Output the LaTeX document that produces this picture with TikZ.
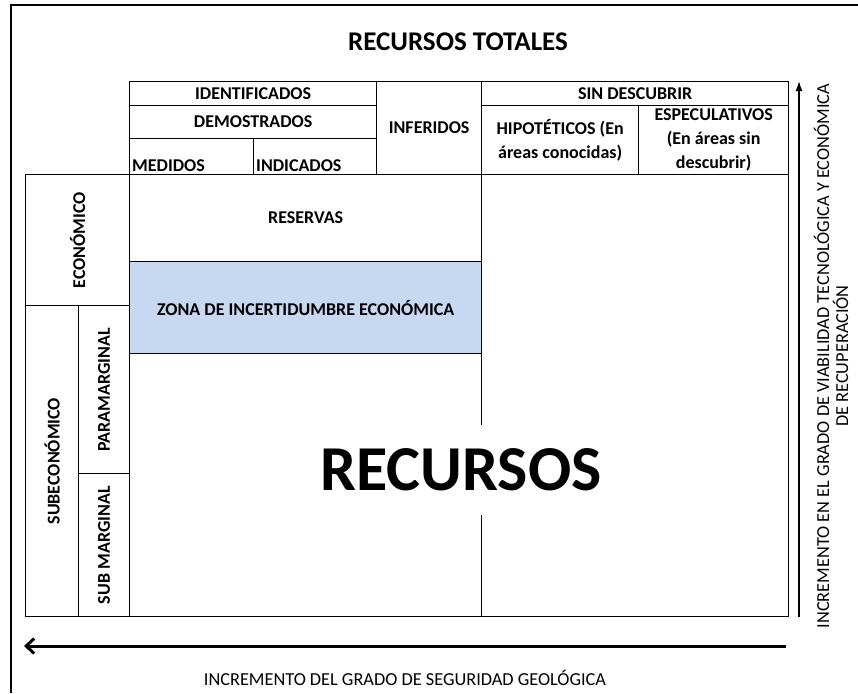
\documentclass[tikz,border=0pt]{standalone}
\usepackage{fontspec}
\setmainfont{Carlito}
\usetikzlibrary{arrows.meta,positioning}

\definecolor{zonablue}{HTML}{C6D9F1}

\begin{document}
\begin{tikzpicture}[
    x=1pt, y=-1pt,
    cell/.style={draw, line width=1.3pt, anchor=north west, inner sep=2pt, align=center,
      font=\fontsize{18}{24}\selectfont\bfseries},
    lbl/.style={inner sep=3pt, font=\fontsize{18}{24}\selectfont\bfseries},
    axistext/.style={align=center, font=\fontsize{18.3}{19}\selectfont},
    harr/.style={-{Straight Barb[length=8pt, width=15pt, line width=3pt]}, line width=3pt},
    varr/.style={-{Latex[length=11pt, width=7pt]}, line width=2.6pt},
  ]
    \useasboundingbox (0,0) rectangle (858,693);

    % Frame (only left and top edges show)
    \coordinate (frame-bl) at (11,693);
    \coordinate (frame-tr) at (858,5);
    \draw[line width=1.4pt] (frame-bl) |- (frame-tr);

    \node[font=\fontsize{27}{30}\selectfont\bfseries] (title) at (458,42) {RECURSOS TOTALES};

    % Header: identified
    \node[cell, minimum width=247pt, minimum height=24pt] (ident) at (129,81) {IDENTIFICADOS};
    \node[cell, minimum width=247pt, minimum height=33pt] (demo) at (129,105) {DEMOSTRADOS};
    \node[cell, minimum width=124pt, minimum height=36pt,
      label={[lbl, anchor=south west]south west:MEDIDOS}] (medidos) at (129,138) {};
    \node[cell, minimum width=123pt, minimum height=36pt,
      label={[lbl, anchor=south west]south west:INDICADOS}] (indicados) at (253,138) {};
    \node[cell, minimum width=105pt, minimum height=93pt] (inferidos) at (376,81) {INFERIDOS};

    % Header: undiscovered
    \node[cell, minimum width=307pt, minimum height=24pt] (sindesc) at (481,81) {SIN DESCUBRIR};
    \node[cell, minimum width=157pt, minimum height=69pt] (hipo) at (481,105) {HIPOTÉTICOS (En\\áreas conocidas)};
    \node[cell, minimum width=150pt, minimum height=69pt] (especul) at (638,105) {ESPECULATIVOS\\(En áreas sin\\descubrir)};

    % Left side
    \node[cell, minimum width=104pt, minimum height=131pt] (econ) at (25,174) {\rotatebox{90}{ECONÓMICO}};
    \node[cell, minimum width=53pt, minimum height=311pt] (subecon) at (25,305) {\rotatebox{90}{SUBECONÓMICO}};
    \node[cell, minimum width=51pt, minimum height=168pt] (paramarg) at (78,305) {\rotatebox{90}{PARAMARGINAL}};
    \node[cell, minimum width=51pt, minimum height=143pt] (submarg) at (78,473) {\rotatebox{90}{SUB MARGINAL}};

    % Body
    \node[cell, minimum width=352pt, minimum height=87pt] (reservas) at (129,174) {RESERVAS};
    \node[cell, fill=zonablue, minimum width=352pt, minimum height=92pt] (zona) at (129,261) {ZONA DE INCERTIDUMBRE ECONÓMICA};
    \node[cell, minimum width=352pt, minimum height=263pt] (inferior) at (129,353) {};
    \node[cell, minimum width=307pt, minimum height=442pt] (derecha) at (481,174) {};
    \node[fill=white, inner xsep=3pt, minimum height=90pt,
      font=\fontsize{64}{70}\selectfont\bfseries] (recursos) at (461,470) {RECURSOS};

    % Axes
    \coordinate (h-from) at (786,646);
    \coordinate (h-to) at (24,646);
    \draw[harr] (h-from) -- (h-to);
    \node[axistext] (seguridad) at (405,678) {INCREMENTO DEL GRADO DE SEGURIDAD GEOLÓGICA};

    \coordinate (v-from) at (799,617);
    \coordinate (v-to) at (799,80);
    \draw[varr] (v-from) -- (v-to);
    \node[axistext, rotate=90] (viabilidad) at (831,356)
      {INCREMENTO EN EL GRADO DE VIABILIDAD TECNOLÓGICA Y ECONÓMICA\\DE RECUPERACIÓN};
\end{tikzpicture}
\end{document}
